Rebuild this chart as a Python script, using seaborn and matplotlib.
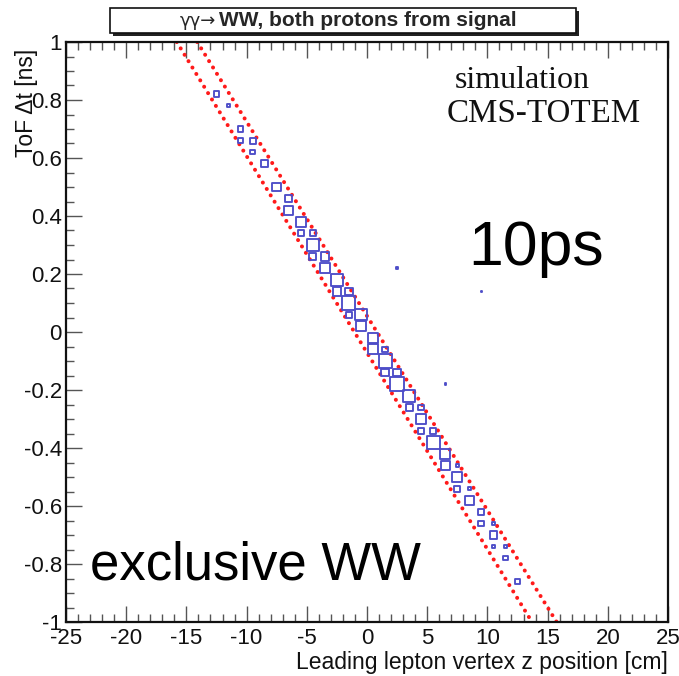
import numpy as np
import pandas as pd
import matplotlib
matplotlib.use("Agg")
import matplotlib.pyplot as plt
import seaborn as sns
from matplotlib.patches import Rectangle
from matplotlib.ticker import MultipleLocator, FixedLocator

# ---------------- data ----------------
z_bins = [-12.5, -11.5, -10.5, -10.5, -9.5, -9.5, -8.5, -7.5, -6.5, -6.5,
          -5.5, -5.5, -4.5, -4.5, -4.5, -3.5, -3.5, -2.5, -2.5, -1.5,
          -1.5, -1.5, -0.5, -0.5, 0.5, 0.5, 1.5, 1.5, 1.5, 2.5,
          2.5, 3.5, 3.5, 4.5, 4.5, 4.5, 5.5, 5.5, 6.5, 6.5,
          7.5, 7.5, 7.5, 8.5, 8.5, 9.5, 9.5, 10.5, 10.5, 10.5,
          11.5, 11.5, 12.5, 2.5, 9.5, 6.5]
dt_bins = [0.82, 0.78, 0.70, 0.66, 0.66, 0.62, 0.58, 0.50, 0.46, 0.42,
           0.38, 0.34, 0.34, 0.30, 0.26, 0.26, 0.22, 0.18, 0.14, 0.14,
           0.10, 0.06, 0.06, 0.02, -0.02, -0.06, -0.06, -0.10, -0.14, -0.14,
           -0.18, -0.22, -0.26, -0.26, -0.30, -0.34, -0.34, -0.38, -0.42, -0.46,
           -0.46, -0.50, -0.54, -0.54, -0.58, -0.62, -0.66, -0.66, -0.70, -0.74,
           -0.74, -0.78, -0.86, 0.22, 0.14, -0.18]
counts = [4, 2, 4, 3, 4, 3, 5, 6, 5, 6,
          7, 4, 4, 8, 5, 6, 7, 8, 6, 5,
          9, 4, 8, 7, 7, 7, 4, 9, 5, 5,
          10, 8, 5, 4, 7, 4, 4, 9, 7, 6,
          2, 7, 4, 2, 6, 4, 4, 2, 5, 2,
          2, 3, 3, 1, 1, 1]

# timing window lines (dotted red)
line_dt = [1.0, -1.0]
line_lo_z = [-15.8, 13.7]
line_hi_z = [-14.1, 15.75]

x_ticks = [-25, -20, -15, -10, -5, 0, 5, 10, 15, 20, 25]
x_ticklabels = ["-25", "-20", "-15", "-10", "-5", "0", "5", "10", "15", "20", "25"]
y_ticks = [-1.0, -0.8, -0.6, -0.4, -0.2, 0.0, 0.2, 0.4, 0.6, 0.8, 1.0]
y_ticklabels = ["-1", "-0.8", "-0.6", "-0.4", "-0.2", "0", "0.2", "0.4", "0.6", "0.8", "1"]

title_regular = "\u03b3\u03b3\u2192"
title_bold = "WW, both protons from signal"
x_label = "Leading lepton vertex z position [cm]"
y_label = "ToF \u0394t [ns]"

# ---------------- styling ----------------
sns.set_style("ticks")
plt.rcParams["font.family"] = ["Liberation Sans", "DejaVu Sans"]

W, H = 679, 676
fig = plt.figure(figsize=(W / 100, H / 100), dpi=100)
ax = fig.add_axes([66 / W, 1 - 622 / H, 602 / W, 580 / H])

df = pd.DataFrame({"z": z_bins, "dt": dt_bins, "count": counts})
box_color = "#4d4dc8"
size_map = {c: (1.45 * c * 0.72) ** 2 for c in sorted(set(counts))}
sns.scatterplot(data=df, x="z", y="dt", size="count", sizes=size_map,
                marker="s", facecolor="none", edgecolor=box_color,
                linewidth=1.35, legend=False, ax=ax, zorder=3)

lines = pd.DataFrame({"z": line_lo_z + line_hi_z, "dt": line_dt + line_dt,
                      "which": ["lo", "lo", "hi", "hi"]})
for name, sub in lines.groupby("which"):
    sns.lineplot(data=sub, x="z", y="dt", sort=False, estimator=None,
                 color="#ff1a1a", linewidth=2.9, ax=ax, zorder=2,
                 linestyle=(0, (0.01, 1.85)), dash_capstyle="round")

ax.set_xlim(-25, 25)
ax.set_ylim(-1, 1)
ax.set_xlabel("")
ax.set_ylabel("")
ax.xaxis.set_major_locator(FixedLocator(x_ticks))
ax.set_xticklabels(x_ticklabels)
ax.yaxis.set_major_locator(FixedLocator(y_ticks))
ax.set_yticklabels(y_ticklabels)
ax.xaxis.set_minor_locator(MultipleLocator(1))
ax.yaxis.set_minor_locator(MultipleLocator(0.05))
ax.tick_params(which="both", direction="in", top=True, right=False,
               color="#555555", width=1.0, labelsize=16, labelcolor="#111111")
ax.tick_params(which="major", length=11.5)
ax.tick_params(which="minor", length=5.8)
ax.tick_params(axis="x", pad=4)
ax.tick_params(axis="y", pad=3)
for s in ax.spines.values():
    s.set_visible(True)
    s.set_linewidth(1.6)
    s.set_color("#111111")

# axis titles (ROOT style, aligned to axis ends)
fig.text(26 / W, 1 - 49 / H, y_label, rotation=90, ha="center", va="top",
         fontsize=16.5, color="#111111")
fig.text(668 / W, 1 - 662 / H, x_label, ha="right", va="center",
         fontsize=16.5, color="#111111")

# title box with shadow
fig.add_artist(Rectangle((113 / W, 1 - 36 / H), 466 / W, 25 / H,
                         transform=fig.transFigure, facecolor="#222222",
                         edgecolor="none", zorder=5))
fig.add_artist(Rectangle((110 / W, 1 - 33 / H), 466 / W, 25 / H,
                         transform=fig.transFigure, facecolor="white",
                         edgecolor="#111111", linewidth=1.2, zorder=6))
fig.text(216 / W, 1 - 26 / H, title_regular, ha="right", va="baseline",
         fontsize=13, family=["DejaVu Sans"], zorder=7)
fig.text(219 / W, 1 - 26 / H, title_bold, ha="left", va="baseline",
         fontsize=15, fontweight="bold", zorder=7)

# annotations
fig.text(455 / W, 1 - 81 / H, "simulation", ha="left", va="center",
         fontsize=23, family=["Liberation Serif", "DejaVu Serif"], color="#111111")
fig.text(447 / W, 1 - 114 / H, "CMS-TOTEM", ha="left", va="center",
         fontsize=23.8, family=["Liberation Serif", "DejaVu Serif"], color="#111111")
fig.text(468 / W, 1 - 265 / H, "10ps", ha="left", va="baseline",
         fontsize=45, color="black")
fig.text(90 / W, 1 - 580 / H, "exclusive WW", ha="left", va="baseline",
         fontsize=38, color="black")

fig.savefig("out.png", dpi=100)
